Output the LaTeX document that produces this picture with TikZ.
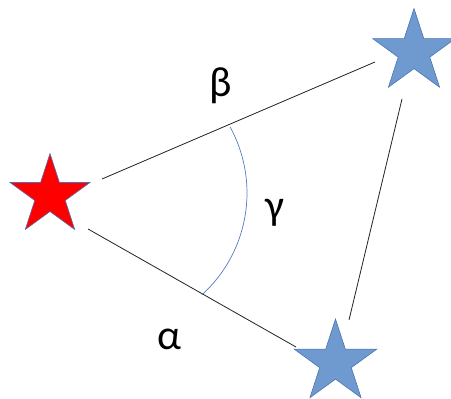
\documentclass[tikz,border=0pt]{standalone}
\usepackage{fontspec}
\setmainfont{Carlito}
\usetikzlibrary{shapes.geometric,calc}
\definecolor{starblue}{RGB}{110,154,208}
\definecolor{starline}{RGB}{74,114,176}
\definecolor{arcblue}{RGB}{84,124,192}

\begin{document}
\begin{tikzpicture}[x=0.03cm, y=-0.03cm, font=\fontsize{36}{40}\selectfont,
  pstar/.style={star, star points=5, star point ratio=2.618, inner sep=0pt,
    draw=starline, line width=0.5pt},
  edge/.style={line width=0.7pt, black!85}]
  \useasboundingbox (0,0) rectangle (451,399);
  % the three stars
  \node[pstar, fill=red, minimum size=2.52cm] (red) at (50,195.5) {};
  \node[pstar, fill=starblue, minimum size=2.61cm] (bluetop) at (414,52) {};
  \node[pstar, fill=starblue, minimum size=2.61cm] (bluebot) at (335.5,362.5) {};
  % sides of the triangle, kept clear of the stars
  \draw[edge] ($(red)+(52,-16.5)$) -- ($(bluetop)+(-39,10)$);
  \draw[edge] ($(red)+(38,33.5)$) -- ($(bluebot)+(-39.5,-15.5)$);
  \draw[edge] ($(bluetop)+(-12,47)$) -- ($(bluebot)+(13.5,-42.5)$);
  % angle at the red star
  \draw[arcblue, line width=0.6pt, domain=-28.7:47.8, samples=60, smooth]
    plot ({109.5+137.5*cos(\x)}, {193+137.5*sin(\x)});
  % labels
  \node (beta) at (221,86) {β};
  \node (gamma) at (275,213) {γ};
  \node (alpha) at (169,339) {α};
\end{tikzpicture}
\end{document}
